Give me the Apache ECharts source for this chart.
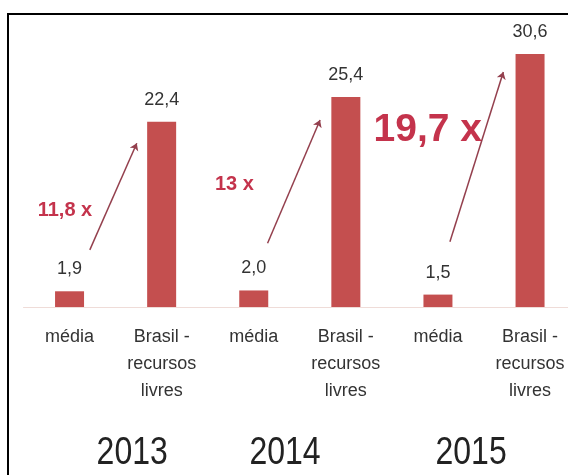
<!DOCTYPE html>
<html>
<head>
<meta charset="utf-8">
<title>Crédito livre: Brasil x média</title>
<script src="https://cdn.jsdelivr.net/npm/echarts@6/dist/echarts.min.js"></script>
<style>
  html, body { margin: 0; padding: 0; background: #fff; }
  #chart { width: 568px; height: 475px; }
</style>
</head>
<body>
<div id="chart"></div>
<script>
// Source figures
const years = ['2013', '2014', '2015'];
const groups = ['média', 'Brasil -\nrecursos\nlivres'];
const mediaValues = [1.9, 2.0, 1.5];
const brasilValues = [22.4, 25.4, 30.6];
const multipliers = ['11,8 x', '13 x', '19,7 x'];

// Annotation placement, in axis units (x: category index, y: value)
const arrowPaths = [
  [[0.22, 6.9], [0.73, 19.8]],
  [[2.15, 7.7], [2.72, 22.6]],
  [[4.13, 7.9], [4.71, 28.4]]
];
const multiplierSpots = [[-0.05, 11.7], [1.79, 14.8], [3.89, 21.4]];
const multiplierSizes = [20, 20, 39];
const yearSpots = [[0.68, -17.7], [2.34, -17.7], [4.36, -17.7]];

// One bar per category: média and Brasil alternate per year
const categories = [];
const barValues = [];
years.forEach((y, i) => {
  categories.push(groups[0], groups[1]);
  barValues.push(mediaValues[i], brasilValues[i]);
});

const fmt = v => v.toFixed(1).replace('.', ',');
const FONT = '"Liberation Sans", Arial, Helvetica, sans-serif';
const RED = '#b5001f';

const chart = echarts.init(document.getElementById('chart'), null, { renderer: 'canvas' });

chart.setOption({
  animation: false,
  backgroundColor: '#fff',
  grid: { left: 23.5, top: 17.5, width: 552.6, height: 289.5, outerBoundsMode: 'none', containLabel: false },
  xAxis: [
    {
      type: 'category',
      data: categories,
      axisLine: { show: true, lineStyle: { color: '#efdcd8', width: 1 } },
      axisTick: { show: false },
      axisLabel: {
        interval: 0,
        margin: 17,
        fontFamily: FONT,
        fontSize: 18,
        lineHeight: 27,
        color: '#333'
      }
    },
    { type: 'value', min: -0.5, max: 5.5, show: false }
  ],
  yAxis: { type: 'value', min: 0, max: 35, show: false },
  series: [
    {
      type: 'bar',
      data: barValues,
      barWidth: 29,
      itemStyle: { color: '#c44f4f' },
      label: {
        show: true,
        position: 'top',
        distance: 13,
        fontFamily: FONT,
        fontSize: 18,
        color: '#333',
        formatter: p => fmt(p.value)
      }
    },
    {
      type: 'lines',
      coordinateSystem: 'cartesian2d',
      xAxisIndex: 1,
      yAxisIndex: 0,
      symbol: ['none', 'arrow'],
      symbolSize: 7,
      lineStyle: { color: '#94404e', width: 1.5, opacity: 1 },
      data: arrowPaths.map(c => ({ coords: c }))
    },
    {
      type: 'scatter',
      xAxisIndex: 1,
      yAxisIndex: 0,
      symbolSize: 0,
      clip: false,
      data: multiplierSpots.map((p, i) => ({
        value: p,
        label: { fontSize: multiplierSizes[i] },
        name: multipliers[i]
      })),
      label: {
        show: true,
        position: 'inside',
        fontFamily: FONT,
        fontWeight: 'bold',
        color: RED,
        formatter: p => p.name
      }
    }
  ]
});

// Year captions under each pair, placed through the axes and narrowed horizontally
const yearGraphics = years.map((y, i) => {
  const pt = chart.convertToPixel({ xAxisIndex: 1, yAxisIndex: 0 }, yearSpots[i]);
  return {
    type: 'text',
    x: pt[0],
    y: pt[1],
    scaleX: 0.82,
    silent: true,
    style: {
      text: y,
      fontFamily: FONT,
      fontSize: 39,
      fill: '#222',
      align: 'center',
      verticalAlign: 'middle'
    }
  };
});

chart.setOption({
  graphic: yearGraphics.concat([
    {
      type: 'rect',
      shape: { x: 8, y: 14, width: 620, height: 520 },
      style: { fill: null, stroke: '#000', lineWidth: 2 },
      silent: true,
      z: 100
    }
  ])
});
</script>
</body>
</html>
